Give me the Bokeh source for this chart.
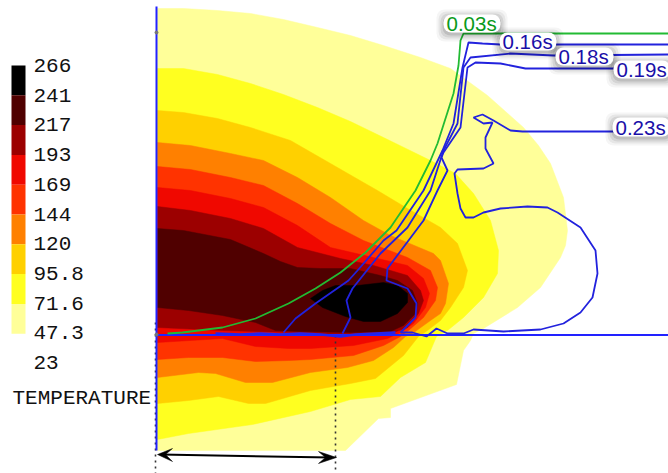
from bokeh.plotting import figure
from bokeh.models import Range1d
from bokeh.core.properties import value
from bokeh.embed import file_html
from bokeh.resources import INLINE

# Legend
legend_labels = ["266","241","217","193","169","144","120","95.8","71.6","47.3","23"]
legend_colors = ["#000000","#500000","#9c0000","#f00800","#ff3300","#ff8000","#ffd000","#ffff20","#ffff99"]

# Temperature band outlines, outermost first, in the picture's coordinates
pale_x = [157,183,217,250,283,317,350,383,420,450,487,505,523,538,550,563,567,565,560,540,517,483,473,470,463,456,390,390,378,345,157]
pale_y = [8,8,10,13,19,27,35,45,57,68,95,111,127,145,163,197,230,245,257,287,307,328,333,340,350,384,408,417,418,450,450]
yellow_x = [157,183,217,250,283,317,350,383,430,455,473,490,498,497,483,463,447,436,425,400,380,350,310,252,188,157]
yellow_y = [68,68,74,83,94,107,121,137,160,173,193,220,250,273,297,317,330,336,362,377,396,399,411,424,433,439]
gold_x = [157,183,217,250,290,330,363,377,407,440,457,467,463,450,440,427,418,403,375,350,310,265,248,218,188,157]
gold_y = [110,112,118,127,140,163,182,190,208,227,243,270,287,307,320,330,336,355,378,383,390,403,403,396,400,403]
orange_x = [157,190,230,263,297,330,363,390,433,440,448,445,440,430,412,405,393,373,347,310,272,245,215,198,157]
orange_y = [142,145,153,160,177,197,220,235,253,260,283,303,313,320,333,336,347,360,367,372,382,382,373,372,377]
redorange_x = [157,190,230,263,297,330,363,407,430,437,435,423,408,400,383,353,310,288,255,222,188,157]
redorange_y = [166,169,177,185,203,223,240,257,270,287,300,317,330,336,345,355,359,360,361,357,357,359]
red_x = [157,190,230,263,297,330,373,407,423,429,425,413,400,387,353,310,288,255,222,157]
red_y = [187,190,198,207,225,247,257,265,278,293,307,323,332,338,345,348,348,346,338,342]
darkred_x = [157,190,230,263,297,340,373,407,420,423,418,407,390,340,290,222,157]
darkred_y = [206,210,218,228,247,258,265,275,290,300,313,327,333,334,332,330,327]
maroon_x = [157,183,230,263,280,297,320,350,380,397,412,417,415,403,390,350,300,275,255,222,188,157]
maroon_y = [228,230,239,253,261,267,268,268,275,280,290,303,313,325,331,332,331,330,322,315,310,307]
black_x = [310,322,335,357,383,397,407,407,397,380,363,345,322]
black_y = [298,290,285,285,282,285,293,302,313,321,321,316,307]

# Time front curves
front003_x = [167,182,222,255,288,315,340,365,390,415,430,437,445,453,458,460,463,668]
front003_y = [333,332,327,318,303,288,272,252,227,190,160,143,118,93,65,40,33,33]
front016_x = [283,295,315,348,357,383,396,423,442,453,462,468,482,500,668]
front016_y = [332,318,303,280,270,240,230,190,150,123,67,42,43,44,44]
front018_x = [342,350,346,352,380,407,430,443,457,463,470,510,553,668]
front018_y = [333,317,300,288,253,227,190,150,123,67,57,53,55,54]
front019_x = [400,415,416,407,386,387,423,437,447,441,443,460,467,475,500,525,573,613,668]
front019_y = [332,317,303,288,280,268,220,190,170,157,152,127,67,62,63,68,68,68,68]
front023_x = [400,412,426,436,447,463,473,503,540,563,580,592,597,595,580,557,547,527,500,483,473,465,460,457,454,457,483,493,485,485,492,483,473,482,493,510,522,612,668]
front023_y = [332,332,336,328,333,333,329,331,329,323,312,297,273,250,227,212,207,206,208,212,217,217,208,193,173,169,168,163,148,137,122,123,117,114,120,130,131,131,131]
axis_noise_x = [215,240,260,280,300,320,340,355,375,395]
axis_noise_y = [333,334,333,334,333,334,336,334,333,332]

# Front labels
front_labels = ["0.03s","0.16s","0.18s","0.19s","0.23s"]
label_left = [443,499,555,613,612]
label_right = [500,556,613,670,670]
label_top = [14,32,47,60,117]
label_bottom = [32,50,65,78,136]
label_colors = ["#0a9a1a","#1a0fa8","#1a0fa8","#1a0fa8","#1a0fa8"]

p = figure(width=668, height=473, output_backend="svg", toolbar_location=None,
           x_range=Range1d(0, 668), y_range=Range1d(473, 0), min_border=0)
p.axis.visible = False
p.grid.visible = False
p.outline_line_color = None
p.background_fill_color = "#ffffff"

bands = [(pale_x,pale_y,8),(yellow_x,yellow_y,7),(gold_x,gold_y,6),(orange_x,orange_y,5),
         (redorange_x,redorange_y,4),(red_x,red_y,3),(darkred_x,darkred_y,2),(maroon_x,maroon_y,1),(black_x,black_y,0)]
for xs, ys, i in bands:
    p.patch(xs, ys, fill_color=legend_colors[i], line_color=legend_colors[i], line_width=0.5)

# Legend
step = 29.8
for i, c in enumerate(legend_colors):
    p.quad(left=11, right=25, top=65+i*step, bottom=65+(i+1)*step, fill_color=c, line_color=None)
p.text([33]*len(legend_labels), [65+i*29.7 for i in range(len(legend_labels))], text=legend_labels,
       text_font=value("Liberation Mono"), text_font_size="21px", text_color="#111111", text_baseline="middle")
p.text([12], [398], text=["TEMPERATURE"], text_font=value("Liberation Mono"), text_font_size="21px",
       text_color="#111111", text_baseline="middle")

# Dotted guide lines and arrow
p.line([155,155],[322,473], line_color="#333333", line_width=1.6, line_dash="2 4")
p.line([335,335],[335,473], line_color="#333333", line_width=1.6, line_dash="2 4")
p.line([160,330],[454,457], line_color="#000000", line_width=2)
p.patch([157,172,165,172],[454,448,454,461], fill_color="#000000", line_color="#000000", line_width=0.5)
p.patch([336,318,325,318],[457,451,457,463], fill_color="#000000", line_color="#000000", line_width=0.5)

# Blue axes
p.line([156,156],[6,450], line_color="#2222ff", line_width=2)
p.line([156,668],[334.5,334.5], line_color="#2222ff", line_width=2)
p.line(axis_noise_x, axis_noise_y, line_color="#2222ee", line_width=2.5)
p.scatter([156,156],[32,334], size=3, color="#777777")

p.line(front003_x, front003_y, line_color="#22bb33", line_width=1.8)
for xs, ys in [(front016_x,front016_y),(front018_x,front018_y),(front019_x,front019_y),(front023_x,front023_y)]:
    p.line(xs, ys, line_color="#2222dd", line_width=1.8)

# Labels with a soft shadow
for grow, a in [(7,0.04),(5,0.06),(3,0.08),(1,0.1)]:
    p.quad(left=[v-grow for v in label_left], right=[v+grow for v in label_right],
           top=[v-grow+2 for v in label_top], bottom=[v+grow+2 for v in label_bottom],
           fill_color="#000000", fill_alpha=a, line_color=None, border_radius=8)
p.quad(left=label_left, right=label_right, top=label_top, bottom=label_bottom,
       fill_color="#ffffff", line_color=None, border_radius=8)
p.text([v+3 for v in label_left], [(t+b)/2 for t,b in zip(label_top,label_bottom)], text=front_labels,
       text_font=value("Liberation Sans"), text_font_size="20.5px", text_color=label_colors, text_baseline="middle")

open("out.html", "w").write(file_html(p, INLINE))
